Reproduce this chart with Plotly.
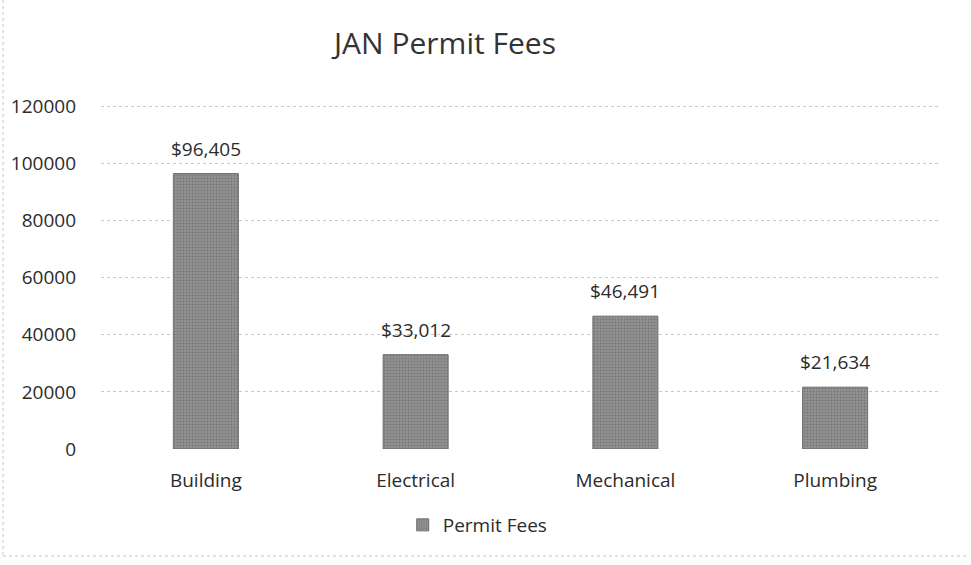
import plotly.graph_objects as go

categories = ["Building", "Electrical", "Mechanical", "Plumbing"]
permit_fees = [96405, 33012, 46491, 21634]
series_name = "Permit Fees"
title_text = "JAN Permit Fees"
y_ticks = [0, 20000, 40000, 60000, 80000, 100000, 120000]

FONT = "Open Sans"
TXT = "#2b2b2b"

fig = go.Figure()
fig.add_trace(go.Bar(
    x=categories, y=permit_fees, name=series_name,
    marker=dict(color="#878787", line=dict(color="#6f6f6f", width=1),
                pattern=dict(shape=".", fgcolor="#5a5a5a", bgcolor="#939393",
                             size=3, solidity=0.35)),
    showlegend=True,
))

for c, v in zip(categories, permit_fees):
    fig.add_annotation(x=c, y=v, text="${:,}".format(v), showarrow=False,
                       yanchor="bottom", yshift=10,
                       font=dict(family=FONT, size=19, color=TXT))

# chart-area border (dotted, light gray) on left and bottom
L, R, T, B = 101, 940, 105, 449
def px_to_paper_x(px):
    return (px - L) / (R - L)
def px_to_paper_y(py):
    return (B - py) / (B - T)

fig.add_shape(type="line", xref="paper", yref="paper",
              x0=px_to_paper_x(3), x1=px_to_paper_x(3), y0=px_to_paper_y(0), y1=px_to_paper_y(556),
              line=dict(color="#c4c4c4", width=1, dash="dot"))
fig.add_shape(type="line", xref="paper", yref="paper",
              x0=px_to_paper_x(3), x1=px_to_paper_x(968), y0=px_to_paper_y(556), y1=px_to_paper_y(556),
              line=dict(color="#c4c4c4", width=1, dash="dot"))

fig.update_layout(
    width=971, height=565,
    margin=dict(l=L, r=971 - R, t=T, b=565 - B),
    paper_bgcolor="white", plot_bgcolor="white",
    title=dict(text=title_text, x=445 / 971, xanchor="center", y=1 - 43 / 565, yanchor="middle",
               xref="container", yref="container",
               font=dict(family=FONT, size=30, color="#333333")),
    bargap=0.69,
    font=dict(family=FONT, size=19, color=TXT),
    legend=dict(orientation="h", xref="container", yref="container",
                x=0.492, xanchor="center", y=1 - 525 / 565, yanchor="middle",
                font=dict(family=FONT, size=19, color=TXT), itemwidth=30),
    xaxis=dict(showgrid=False, showline=False, zeroline=False, ticks="",
               ticklabelstandoff=18, tickfont=dict(family=FONT, size=19, color=TXT)),
    yaxis=dict(range=[0, 120400], tickvals=y_ticks, ticktext=[str(t) for t in y_ticks],
               showgrid=True, gridcolor="#c8c8c8", griddash="dot", gridwidth=1,
               zeroline=False, showline=False, ticks="", ticklabelstandoff=24,
               tickfont=dict(family=FONT, size=19, color=TXT)),
)

fig.write_html("out.html", config={"displayModeBar": False},
               post_script="document.body.style.margin='0';")
